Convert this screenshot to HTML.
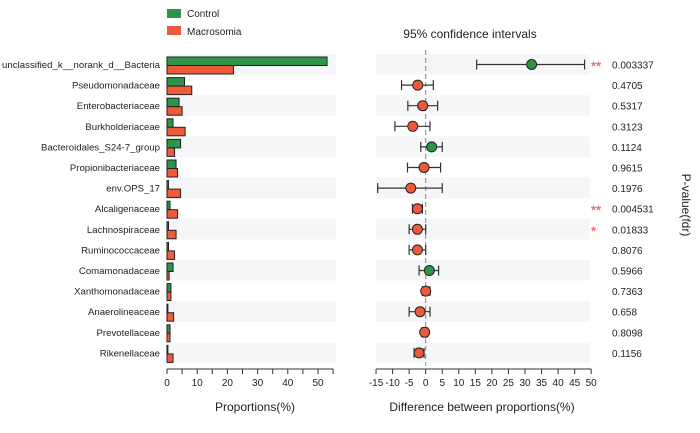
<!DOCTYPE html>
<html><head><meta charset="utf-8"><style>
body{margin:0;background:#fff;font-family:"Liberation Sans",sans-serif;}
svg text{font-family:"Liberation Sans",sans-serif;}
</style></head><body>
<svg id="c" width="700" height="428" xmlns="http://www.w3.org/2000/svg"></svg>
<script>
const categories=["unclassified_k__norank_d__Bacteria","Pseudomonadaceae","Enterobacteriaceae","Burkholderiaceae","Bacteroidales_S24-7_group","Propionibacteriaceae","env.OPS_17","Alcaligenaceae","Lachnospiraceae","Ruminococcaceae","Comamonadaceae","Xanthomonadaceae","Anaerolineaceae","Prevotellaceae","Rikenellaceae"];
const controlVals=[53,5.8,4,2,4.5,3,0.5,1,0.5,0.5,2,1.3,0.3,1,0.3];
const macroVals=[22,8.2,5,6,2.5,3.5,4.5,3.5,3,2.5,0.7,1.3,2.2,1,2];
const diffMean=[32,-2.4,-0.9,-3.9,1.8,-0.5,-4.5,-2.5,-2.5,-2.5,1.1,0,-1.7,-0.3,-2];
const diffLow=[15.4,-7.3,-5.4,-9.3,-1.5,-5.5,-14.5,-4,-5,-5,-2,-1,-5,-1.2,-3.5];
const diffHigh=[48,2.3,3.6,1.3,5,4.5,5,-1,0,0,3.9,1.3,1.3,0.6,-0.5];
const pvals=["0.003337","0.4705","0.5317","0.3123","0.1124","0.9615","0.1976","0.004531","0.01833","0.8076","0.5966","0.7363","0.658","0.8098","0.1156"];
const stars=["**","","","","","","","**","*","","","","","",""];
const leftTicks=[0,10,20,30,40,50];
const rightTicks=[-15,-10,-5,0,5,10,15,20,25,30,35,40,45,50];
const G="#2e9448",R="#f05a3c";
const svg=document.getElementById('c');
const NS="http://www.w3.org/2000/svg";
function mk(t,a,txt){const e=document.createElementNS(NS,t);for(const k in a)e.setAttribute(k,a[k]);if(txt!=null)e.textContent=txt;svg.appendChild(e);return e;}
const rowY=i=>54+i*20.6;
const xL=v=>167+v*3.02;
const xR=v=>425.7+v*3.31;
categories.forEach((c,i)=>{if(i%2==0){let b=mk('rect',{x:166,y:rowY(i),width:170,height:20.6,fill:'#f5f6f8'});
let b2=mk('rect',{x:376,y:rowY(i),width:214,height:20.6,fill:'#f5f6f8'});}});
let zl=mk('line',{x1:xR(0),x2:xR(0),y1:50,y2:366,stroke:'#888','stroke-dasharray':'5,3'});

categories.forEach((c,i)=>{
 const y=rowY(i);
 let t=mk('text',{x:160,y:y+14,'text-anchor':'end','font-size':9.6,fill:'#222'},c);
 if(i==0)t.setAttribute('textLength',158);
 
 let g=mk('rect',{x:xL(0),y:y+3,width:xL(controlVals[i])-xL(0),height:8.5,fill:G,stroke:'#222','stroke-width':1});
 
 let r=mk('rect',{x:xL(0),y:y+11.5,width:xL(macroVals[i])-xL(0),height:8.5,fill:R,stroke:'#222','stroke-width':1});
 
 const cy=y+10.5;
 let e=mk('path',{d:`M${xR(diffLow[i])},${cy}H${xR(diffHigh[i])}M${xR(diffLow[i])},${cy-5}v10M${xR(diffHigh[i])},${cy-5}v10`,stroke:'#333','stroke-width':1.2,fill:'none'});
 
 let p=mk('circle',{cx:xR(diffMean[i]),cy:cy,r:5,fill:diffMean[i]>0?G:R,stroke:'#222','stroke-width':1});
 
 let pv=mk('text',{x:612,y:cy+4,'font-size':10,fill:'#222'},pvals[i]);
 
 if(stars[i]){let s=mk('text',{x:591,y:cy+6,'font-size':13,fill:'#f07070','font-weight':'bold'},stars[i]);
 }
});
let la=mk('line',{x1:167,x2:xL(55),y1:369,y2:369,stroke:'#333'});
for(let v=0;v<=55;v+=5){mk('line',{x1:xL(v),x2:xL(v),y1:369,y2:374,stroke:'#333'});}
leftTicks.forEach(v=>{let t=mk('text',{x:xL(v),y:386,'text-anchor':'middle','font-size':10,fill:'#222'},v);});
let ra=mk('line',{x1:xR(-15),x2:xR(50),y1:369,y2:369,stroke:'#333'});
rightTicks.forEach(v=>{mk('line',{x1:xR(v),x2:xR(v),y1:369,y2:374,stroke:'#333'});let t=mk('text',{x:xR(v),y:386,'text-anchor':'middle','font-size':10,fill:'#222'},v);});
let a1=mk('text',{x:255,y:411,'text-anchor':'middle','font-size':12,fill:'#222'},'Proportions(%)');
let a2=mk('text',{x:482,y:411,'text-anchor':'middle','font-size':12,fill:'#222'},'Difference between proportions(%)');
let ti=mk('text',{x:470,y:38,'text-anchor':'middle','font-size':12,fill:'#222'},'95% confidence intervals');
let pt=mk('text',{x:0,y:0,'text-anchor':'middle','font-size':12,fill:'#222',transform:'translate(682,205) rotate(90)'},'P-value(fdr)');
let l1=mk('rect',{x:167,y:9,width:14,height:9,fill:G});
let l1t=mk('text',{x:187,y:17,'font-size':10,fill:'#222'},'Control');
let l2=mk('rect',{x:167,y:26,width:14,height:9,fill:R});
let l2t=mk('text',{x:187,y:35,'font-size':10,fill:'#222'},'Macrosomia');
</script>
</body></html>
